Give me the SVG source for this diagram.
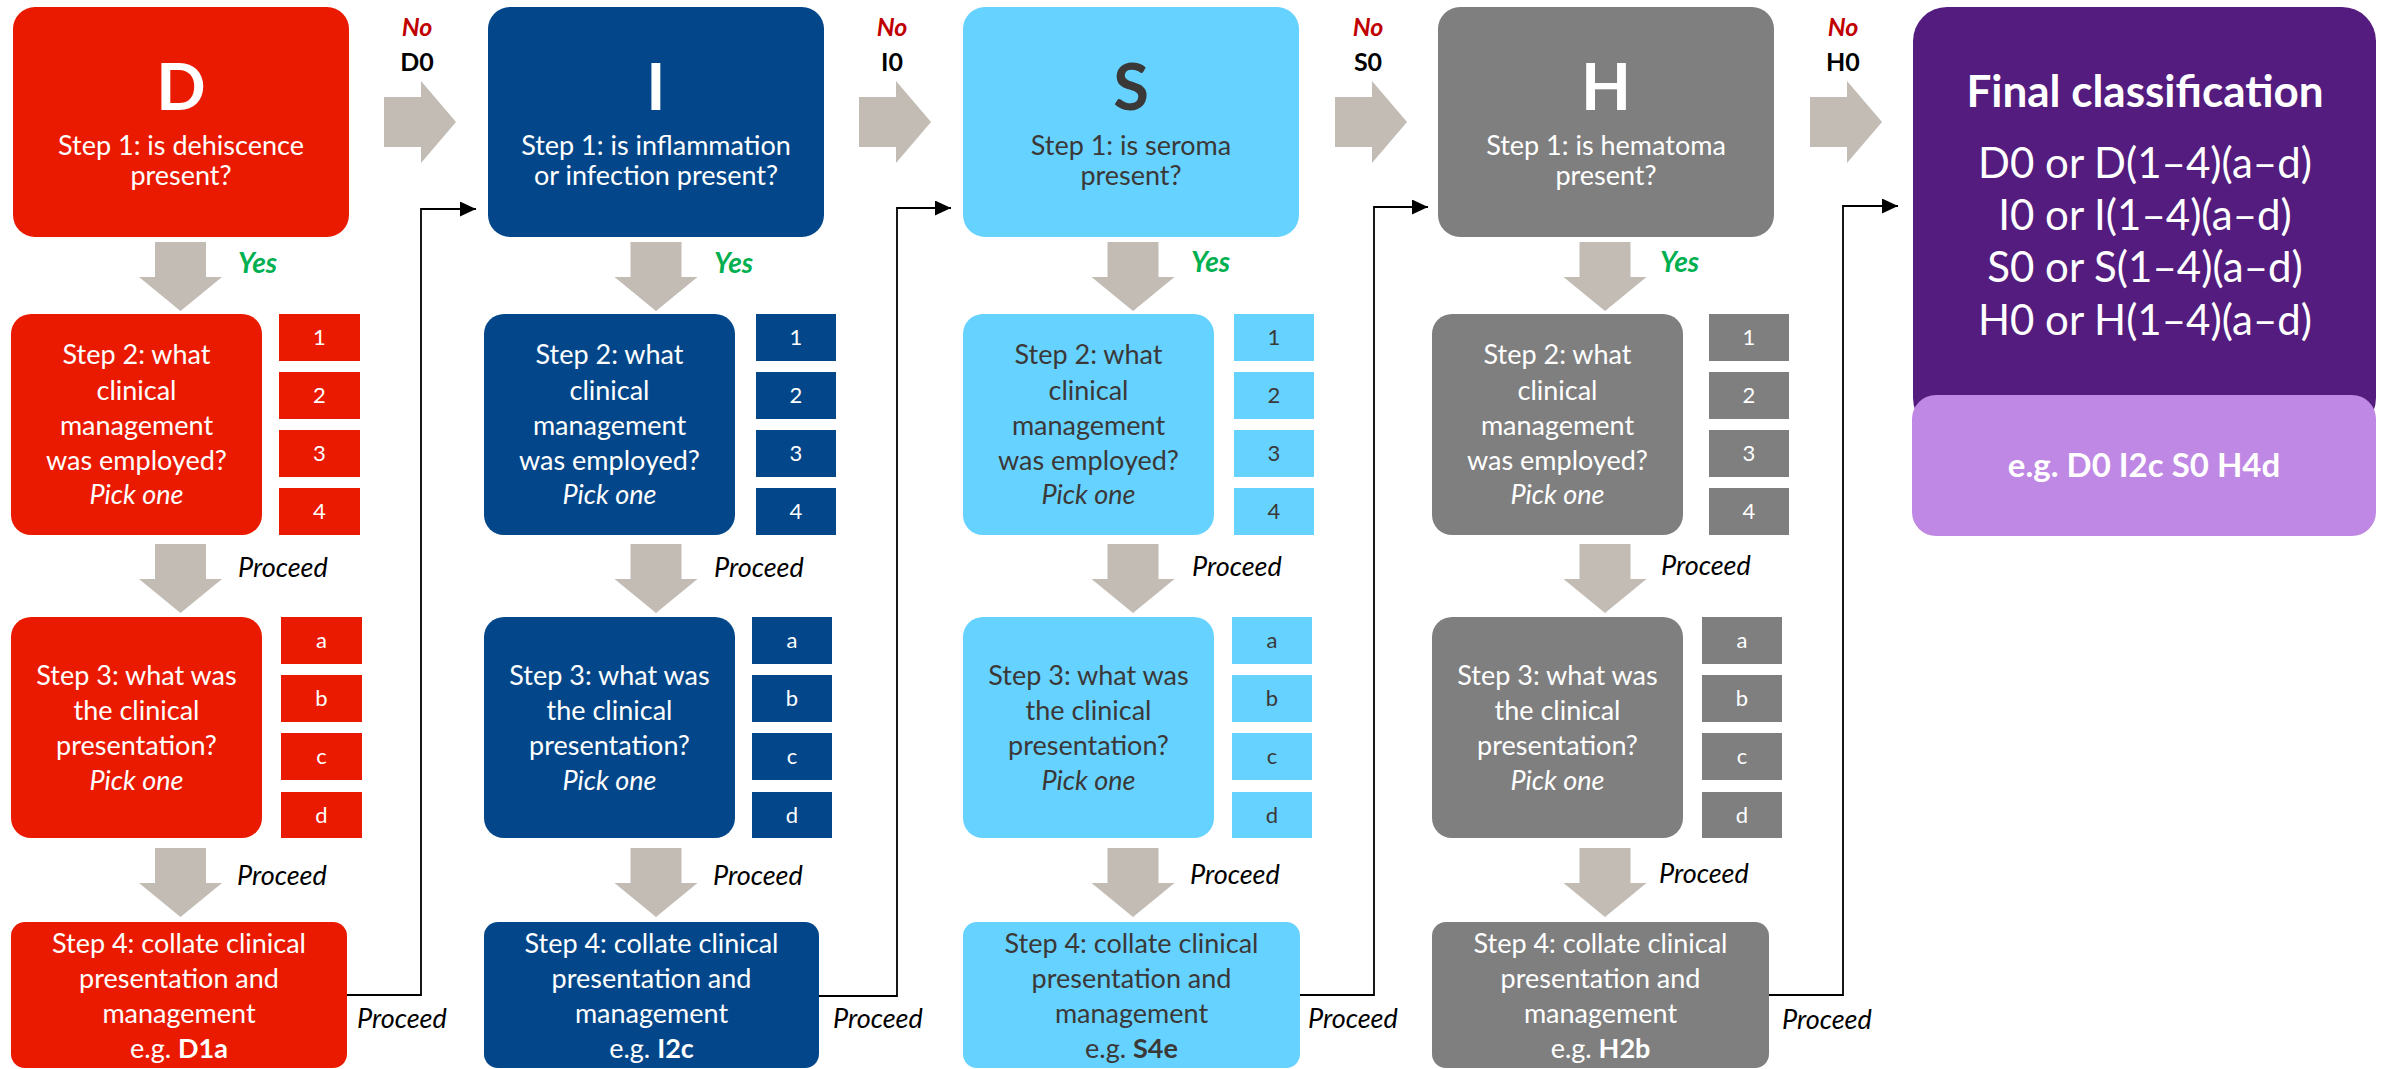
<svg xmlns="http://www.w3.org/2000/svg" xmlns:xlink="http://www.w3.org/1999/xlink" width="2387" height="1069" viewBox="0 0 2387 1069">
<style>
text{font-family:Lato,"Liberation Sans",sans-serif;text-anchor:middle}
.red{fill:#EA1A00}.blue{fill:#03478A}.cyan{fill:#66D2FF}.gray{fill:#7F7F7F}
.w{fill:#FFFFFF}.dk{fill:#3B3838}
.big{font-size:65px;font-weight:bold}
.b{font-size:27px}
.n{font-size:22px}
.it{font-style:italic}
.bold{font-weight:bold}
.yes{font-size:28px;font-weight:bold;font-style:italic;fill:#00B050;text-anchor:start}
.proc{font-size:27px;font-style:italic;fill:#000;text-anchor:start}
.no{font-size:25px;font-weight:bold;font-style:italic;fill:#C00000}
.zero{font-size:25px;font-weight:bold;fill:#000}
.ga{fill:#C2BCB5}
.conn{fill:none;stroke:#000;stroke-width:1.8}
</style>
<defs>
<path id="darr" d="M-25.5,0 H25.5 V35 H41.5 L0,69 L-41.5,35 H-25.5 Z"/>
<path id="rarr" d="M0,-25 H37 V-41 L72,0 L37,41 V25 H0 Z"/>
<marker id="ah" viewBox="0 0 16 15" refX="16" refY="7.5" markerWidth="16" markerHeight="15" markerUnits="userSpaceOnUse" orient="auto"><path d="M0,0 L16,7.5 L0,15 Z" fill="#000"/></marker>
</defs>

<g id="arrows">
<use xlink:href="#darr" class="ga" x="180.5" y="242"/>
<use xlink:href="#darr" class="ga" x="180.5" y="544"/>
<use xlink:href="#darr" class="ga" x="180.5" y="848"/>
<use xlink:href="#darr" class="ga" x="656" y="242"/>
<use xlink:href="#darr" class="ga" x="656" y="544"/>
<use xlink:href="#darr" class="ga" x="656" y="848"/>
<use xlink:href="#darr" class="ga" x="1133" y="242"/>
<use xlink:href="#darr" class="ga" x="1133" y="544"/>
<use xlink:href="#darr" class="ga" x="1133" y="848"/>
<use xlink:href="#darr" class="ga" x="1605" y="242"/>
<use xlink:href="#darr" class="ga" x="1605" y="544"/>
<use xlink:href="#darr" class="ga" x="1605" y="848"/>
<use xlink:href="#rarr" class="ga" x="384" y="122"/>
<use xlink:href="#rarr" class="ga" x="859" y="122"/>
<use xlink:href="#rarr" class="ga" x="1335" y="122"/>
<use xlink:href="#rarr" class="ga" x="1810" y="122"/>
</g>

<g id="connectors">
<path class="conn" d="M347,995 H421 V209 H476" marker-end="url(#ah)"/>
<path class="conn" d="M819,996 H897 V208 H951" marker-end="url(#ah)"/>
<path class="conn" d="M1300,995 H1374 V207 H1428" marker-end="url(#ah)"/>
<path class="conn" d="M1769,995 H1843 V206 H1898" marker-end="url(#ah)"/>
</g>

<g id="labels">
<text class="yes" x="238" y="273">Yes</text>
<text class="yes" x="714" y="273">Yes</text>
<text class="yes" x="1191" y="272">Yes</text>
<text class="yes" x="1660" y="272">Yes</text>
<text class="proc" x="238" y="577">Proceed</text>
<text class="proc" x="714" y="577">Proceed</text>
<text class="proc" x="1192" y="576">Proceed</text>
<text class="proc" x="1661" y="575">Proceed</text>
<text class="proc" x="237" y="885">Proceed</text>
<text class="proc" x="713" y="885">Proceed</text>
<text class="proc" x="1190" y="884">Proceed</text>
<text class="proc" x="1659" y="883">Proceed</text>
<text class="proc" x="357" y="1028">Proceed</text>
<text class="proc" x="833" y="1028">Proceed</text>
<text class="proc" x="1308" y="1028">Proceed</text>
<text class="proc" x="1782" y="1029">Proceed</text>
<text class="no" x="417" y="36">No</text><text class="zero" x="417" y="71">D0</text>
<text class="no" x="892" y="36">No</text><text class="zero" x="892" y="71">I0</text>
<text class="no" x="1368" y="36">No</text><text class="zero" x="1368" y="71">S0</text>
<text class="no" x="1843" y="36">No</text><text class="zero" x="1843" y="71">H0</text>
</g>

<!-- Column D -->
<g id="D-step1">
<rect class="red" x="13" y="7" width="336" height="230" rx="22"/>
<text class="w big" x="181" y="110">D</text>
<text class="w b" x="181" y="155">Step 1: is dehiscence</text>
<text class="w b" x="181" y="185">present?</text>
</g>
<g id="D-step2">
<rect class="red" x="11" y="314" width="251" height="221" rx="20"/>
<text class="w b" x="136.5"><tspan x="136.5" y="364">Step 2: what</tspan><tspan x="136.5" y="400">clinical</tspan><tspan x="136.5" y="435">management</tspan><tspan x="136.5" y="470">was employed?</tspan><tspan x="136.5" y="504" class="it">Pick one</tspan></text>
</g>
<g id="D-opt2">
<rect class="red" x="279" y="314" width="81" height="47"/><text class="w n" x="319.5" y="345">1</text>
<rect class="red" x="279" y="372" width="81" height="47"/><text class="w n" x="319.5" y="403">2</text>
<rect class="red" x="279" y="430" width="81" height="47"/><text class="w n" x="319.5" y="461">3</text>
<rect class="red" x="279" y="488" width="81" height="47"/><text class="w n" x="319.5" y="519">4</text>
</g>
<g id="D-step3">
<rect class="red" x="11" y="617" width="251" height="221" rx="20"/>
<text class="w b"><tspan x="136.5" y="685">Step 3: what was</tspan><tspan x="136.5" y="720">the clinical</tspan><tspan x="136.5" y="755">presentation?</tspan><tspan x="136.5" y="790" class="it">Pick one</tspan></text>
</g>
<g id="D-opt3">
<rect class="red" x="281" y="617" width="81" height="47"/><text class="w n" x="321.5" y="648">a</text>
<rect class="red" x="281" y="675" width="81" height="47"/><text class="w n" x="321.5" y="706">b</text>
<rect class="red" x="281" y="733" width="81" height="47"/><text class="w n" x="321.5" y="764">c</text>
<rect class="red" x="281" y="792" width="81" height="46"/><text class="w n" x="321.5" y="823">d</text>
</g>
<g id="D-step4">
<rect class="red" x="11" y="922" width="336" height="146" rx="14"/>
<text class="w b"><tspan x="179" y="953">Step 4: collate clinical</tspan><tspan x="179" y="988">presentation and</tspan><tspan x="179" y="1023">management</tspan><tspan x="179" y="1058">e.g. <tspan class="bold">D1a</tspan></tspan></text>
</g>

<!-- Column I -->
<g id="I-step1">
<rect class="blue" x="488" y="7" width="336" height="230" rx="22"/>
<text class="w big" x="656" y="110">I</text>
<text class="w b" x="656" y="155">Step 1: is inflammation</text>
<text class="w b" x="656" y="185">or infection present?</text>
</g>
<g id="I-step2">
<rect class="blue" x="484" y="314" width="251" height="221" rx="20"/>
<text class="w b"><tspan x="609.5" y="364">Step 2: what</tspan><tspan x="609.5" y="400">clinical</tspan><tspan x="609.5" y="435">management</tspan><tspan x="609.5" y="470">was employed?</tspan><tspan x="609.5" y="504" class="it">Pick one</tspan></text>
</g>
<g id="I-opt2">
<rect class="blue" x="756" y="314" width="80" height="47"/><text class="w n" x="796" y="345">1</text>
<rect class="blue" x="756" y="372" width="80" height="47"/><text class="w n" x="796" y="403">2</text>
<rect class="blue" x="756" y="430" width="80" height="47"/><text class="w n" x="796" y="461">3</text>
<rect class="blue" x="756" y="488" width="80" height="47"/><text class="w n" x="796" y="519">4</text>
</g>
<g id="I-step3">
<rect class="blue" x="484" y="617" width="251" height="221" rx="20"/>
<text class="w b"><tspan x="609.5" y="685">Step 3: what was</tspan><tspan x="609.5" y="720">the clinical</tspan><tspan x="609.5" y="755">presentation?</tspan><tspan x="609.5" y="790" class="it">Pick one</tspan></text>
</g>
<g id="I-opt3">
<rect class="blue" x="752" y="617" width="80" height="47"/><text class="w n" x="792" y="648">a</text>
<rect class="blue" x="752" y="675" width="80" height="47"/><text class="w n" x="792" y="706">b</text>
<rect class="blue" x="752" y="733" width="80" height="47"/><text class="w n" x="792" y="764">c</text>
<rect class="blue" x="752" y="792" width="80" height="46"/><text class="w n" x="792" y="823">d</text>
</g>
<g id="I-step4">
<rect class="blue" x="484" y="922" width="335" height="146" rx="14"/>
<text class="w b"><tspan x="651.5" y="953">Step 4: collate clinical</tspan><tspan x="651.5" y="988">presentation and</tspan><tspan x="651.5" y="1023">management</tspan><tspan x="651.5" y="1058">e.g. <tspan class="bold">I2c</tspan></tspan></text>
</g>

<!-- Column S -->
<g id="S-step1">
<rect class="cyan" x="963" y="7" width="336" height="230" rx="22"/>
<text class="dk big" x="1131" y="110">S</text>
<text class="dk b" x="1131" y="155">Step 1: is seroma</text>
<text class="dk b" x="1131" y="185">present?</text>
</g>
<g id="S-step2">
<rect class="cyan" x="963" y="314" width="251" height="221" rx="20"/>
<text class="dk b"><tspan x="1088.5" y="364">Step 2: what</tspan><tspan x="1088.5" y="400">clinical</tspan><tspan x="1088.5" y="435">management</tspan><tspan x="1088.5" y="470">was employed?</tspan><tspan x="1088.5" y="504" class="it">Pick one</tspan></text>
</g>
<g id="S-opt2">
<rect class="cyan" x="1234" y="314" width="80" height="47"/><text class="dk n" x="1274" y="345">1</text>
<rect class="cyan" x="1234" y="372" width="80" height="47"/><text class="dk n" x="1274" y="403">2</text>
<rect class="cyan" x="1234" y="430" width="80" height="47"/><text class="dk n" x="1274" y="461">3</text>
<rect class="cyan" x="1234" y="488" width="80" height="47"/><text class="dk n" x="1274" y="519">4</text>
</g>
<g id="S-step3">
<rect class="cyan" x="963" y="617" width="251" height="221" rx="20"/>
<text class="dk b"><tspan x="1088.5" y="685">Step 3: what was</tspan><tspan x="1088.5" y="720">the clinical</tspan><tspan x="1088.5" y="755">presentation?</tspan><tspan x="1088.5" y="790" class="it">Pick one</tspan></text>
</g>
<g id="S-opt3">
<rect class="cyan" x="1232" y="617" width="80" height="47"/><text class="dk n" x="1272" y="648">a</text>
<rect class="cyan" x="1232" y="675" width="80" height="47"/><text class="dk n" x="1272" y="706">b</text>
<rect class="cyan" x="1232" y="733" width="80" height="47"/><text class="dk n" x="1272" y="764">c</text>
<rect class="cyan" x="1232" y="792" width="80" height="46"/><text class="dk n" x="1272" y="823">d</text>
</g>
<g id="S-step4">
<rect class="cyan" x="963" y="922" width="337" height="146" rx="14"/>
<text class="dk b"><tspan x="1131.5" y="953">Step 4: collate clinical</tspan><tspan x="1131.5" y="988">presentation and</tspan><tspan x="1131.5" y="1023">management</tspan><tspan x="1131.5" y="1058">e.g. <tspan class="bold">S4e</tspan></tspan></text>
</g>

<!-- Column H -->
<g id="H-step1">
<rect class="gray" x="1438" y="7" width="336" height="230" rx="22"/>
<text class="w big" x="1606" y="110">H</text>
<text class="w b" x="1606" y="155">Step 1: is hematoma</text>
<text class="w b" x="1606" y="185">present?</text>
</g>
<g id="H-step2">
<rect class="gray" x="1432" y="314" width="251" height="221" rx="20"/>
<text class="w b"><tspan x="1557.5" y="364">Step 2: what</tspan><tspan x="1557.5" y="400">clinical</tspan><tspan x="1557.5" y="435">management</tspan><tspan x="1557.5" y="470">was employed?</tspan><tspan x="1557.5" y="504" class="it">Pick one</tspan></text>
</g>
<g id="H-opt2">
<rect class="gray" x="1709" y="314" width="80" height="47"/><text class="w n" x="1749" y="345">1</text>
<rect class="gray" x="1709" y="372" width="80" height="47"/><text class="w n" x="1749" y="403">2</text>
<rect class="gray" x="1709" y="430" width="80" height="47"/><text class="w n" x="1749" y="461">3</text>
<rect class="gray" x="1709" y="488" width="80" height="47"/><text class="w n" x="1749" y="519">4</text>
</g>
<g id="H-step3">
<rect class="gray" x="1432" y="617" width="251" height="221" rx="20"/>
<text class="w b"><tspan x="1557.5" y="685">Step 3: what was</tspan><tspan x="1557.5" y="720">the clinical</tspan><tspan x="1557.5" y="755">presentation?</tspan><tspan x="1557.5" y="790" class="it">Pick one</tspan></text>
</g>
<g id="H-opt3">
<rect class="gray" x="1702" y="617" width="80" height="47"/><text class="w n" x="1742" y="648">a</text>
<rect class="gray" x="1702" y="675" width="80" height="47"/><text class="w n" x="1742" y="706">b</text>
<rect class="gray" x="1702" y="733" width="80" height="47"/><text class="w n" x="1742" y="764">c</text>
<rect class="gray" x="1702" y="792" width="80" height="46"/><text class="w n" x="1742" y="823">d</text>
</g>
<g id="H-step4">
<rect class="gray" x="1432" y="922" width="337" height="146" rx="14"/>
<text class="w b"><tspan x="1600.5" y="953">Step 4: collate clinical</tspan><tspan x="1600.5" y="988">presentation and</tspan><tspan x="1600.5" y="1023">management</tspan><tspan x="1600.5" y="1058">e.g. <tspan class="bold">H2b</tspan></tspan></text>
</g>

<!-- Final -->
<g id="final">
<rect x="1913" y="7" width="463" height="425" rx="34" fill="#531C7E"/>
<text class="w bold" x="2145" y="107" font-size="44">Final classification</text>
<text class="w" font-size="42"><tspan x="2145" y="178">D0 or D(1–4)(a–d)</tspan><tspan x="2145" y="230">I0 or I(1–4)(a–d)</tspan><tspan x="2145" y="282">S0 or S(1–4)(a–d)</tspan><tspan x="2145" y="335">H0 or H(1–4)(a–d)</tspan></text>
</g>
<g id="example">
<rect x="1912" y="395" width="464" height="141" rx="24" fill="#BF88E4"/>
<text class="w bold" x="2144" y="477" font-size="33">e.g. D0 I2c S0 H4d</text>
</g>
</svg>
